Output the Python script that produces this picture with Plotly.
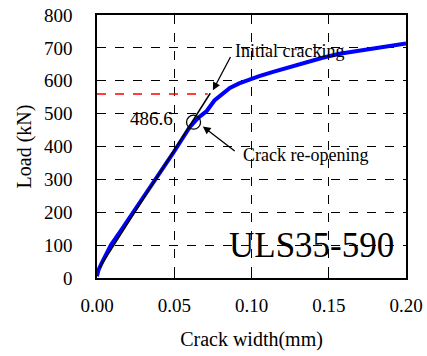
import plotly.graph_objects as go

# Measured load vs crack width curve
crack_width = [0, 0.001, 0.003, 0.009, 0.016, 0.023, 0.029, 0.034, 0.042, 0.049,
               0.055, 0.060, 0.065, 0.071, 0.076, 0.081, 0.086, 0.092, 0.097, 0.105,
               0.114, 0.125, 0.135, 0.146, 0.157, 0.168, 0.179, 0.190, 0.200]
load = [5, 25, 45, 100, 148, 196, 236, 272, 325, 378,
        422, 459, 485, 508, 540, 560, 578, 592, 601, 614,
        627, 642, 657, 670, 682, 690, 698, 706, 713]

# Linear (elastic) fit line
fit_x = [0.0015, 0.0733]
fit_y = [30, 562]

# Initial cracking level (red dashed)
crack_level_x = [0.0, 0.0717]
crack_level_y = [560, 560]

# Crack re-opening point
reopen_x = [0.0625]
reopen_y = [474]
reopen_label = "486.6"

x_ticks = [0.00, 0.05, 0.10, 0.15, 0.20]
y_ticks = [0, 100, 200, 300, 400, 500, 600, 700, 800]

FONT = "Liberation Serif, Times New Roman, serif"

fig = go.Figure()
fig.add_trace(go.Scatter(x=crack_level_x, y=crack_level_y, mode="lines",
                         line=dict(color="#ff0000", width=1.5, dash="dash"),
                         showlegend=False, hoverinfo="skip"))
fig.add_trace(go.Scatter(x=crack_width, y=load, mode="lines",
                         line=dict(color="#0000ff", width=4),
                         showlegend=False))
fig.add_trace(go.Scatter(x=fit_x, y=fit_y, mode="lines",
                         line=dict(color="black", width=1.5),
                         showlegend=False, hoverinfo="skip"))
fig.add_trace(go.Scatter(x=reopen_x, y=reopen_y, mode="markers",
                         marker=dict(symbol="circle-open", size=14,
                                     color="black", line=dict(width=1.3)),
                         showlegend=False))

annotations = [
    # arrows
    dict(x=0.075, y=571, ax=0.0869, ay=677, xref="x", yref="y", axref="x", ayref="y",
         text="", showarrow=True, arrowhead=2, arrowsize=1.2, arrowwidth=1.3,
         arrowcolor="black"),
    dict(x=0.0685, y=461, ax=0.0901, ay=383, xref="x", yref="y", axref="x", ayref="y",
         text="", showarrow=True, arrowhead=2, arrowsize=1.2, arrowwidth=1.3,
         arrowcolor="black"),
    # texts
    dict(x=0.0877, y=692, xref="x", yref="y", text="Initial cracking", showarrow=False,
         xanchor="left", yanchor="middle", font=dict(family=FONT, size=18, color="black")),
    dict(x=0.0933, y=373, xref="x", yref="y", text="Crack re-opening", showarrow=False,
         xanchor="left", yanchor="middle", font=dict(family=FONT, size=18, color="black")),
    dict(x=0.0502, y=486, xref="x", yref="y", text=reopen_label, showarrow=False,
         xanchor="right", yanchor="middle", font=dict(family=FONT, size=19, color="black")),
    dict(x=0.139, y=100, xref="x", yref="y", text="ULS35-590", showarrow=False,
         xanchor="center", yanchor="middle", font=dict(family=FONT, size=35, color="black")),
]

axis_common = dict(showline=True, linecolor="black", linewidth=1.5, mirror=True,
                   ticks="inside", ticklen=5, tickcolor="black", tickwidth=1.2,
                   showgrid=True, gridcolor="black", gridwidth=1, griddash="dash",
                   zeroline=False, automargin=False,
                   tickfont=dict(family=FONT, size=19, color="black"))

fig.update_layout(
    width=427, height=356,
    margin=dict(l=97, r=21, t=15, b=78),
    paper_bgcolor="white", plot_bgcolor="white",
    annotations=annotations,
    xaxis=dict(range=[0, 0.2], tickvals=x_ticks,
               ticktext=[f"{v:.2f}" for v in x_ticks],
               ticklabelstandoff=9,
               title=dict(text="Crack width(mm)", font=dict(family=FONT, size=20, color="black"),
                          standoff=17),
               **axis_common),
    yaxis=dict(range=[0, 800], tickvals=y_ticks,
               ticklabelstandoff=19,
               title=dict(text="Load (kN)", font=dict(family=FONT, size=20, color="black"),
                          standoff=7),
               **axis_common),
)

fig.write_html("out.html")
